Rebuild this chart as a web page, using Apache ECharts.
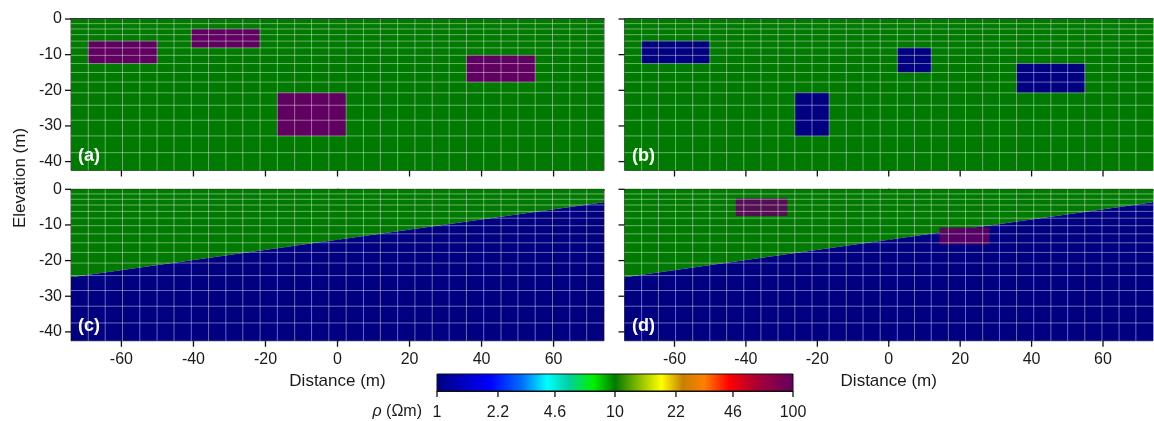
<!DOCTYPE html>
<html>
<head>
<meta http-equiv="Content-Type" content="text/html; charset=utf-8" />
<style type="text/css">
html, body {margin: 0; padding: 0; background: #fff;}
#main {width: 1154px; height: 421px;}
</style>
</head>
<body>
<div id="main"></div>
<script src="https://cdn.jsdelivr.net/npm/echarts@6/dist/echarts.min.js"></script>
<script type="text/javascript">

// model mesh (m)
var xEdges = [-74, -69.2, -64.5, -59.7, -54.9, -50.1, -45.4, -40.6, -35.8, -31.0, -26.3,
    -21.5, -16.7, -11.9, -7.2, -2.4, 2.4, 7.2, 11.9, 16.7, 21.5, 26.3, 31.0, 35.8, 40.6,
    45.4, 50.1, 54.9, 59.7, 64.5, 69.2, 74];
var zEdges = [0, -1.3, -2.8, -4.4, -6.2, -8.1, -10.2, -12.5, -15.0, -17.7, -20.7,
    -24.2, -28.4, -32.8, -37.5, -42.5];

// resistivities (ohm m)
var rhoHost = 10;
var rhoBase = 1;

// blocks: [xLeft, xRight, zTop, zBottom, rho]
var blocksA = [[-69.2, -50.1, -6.2, -12.5, 100], [-40.6, -21.5, -2.8, -8.1, 100],
    [-16.7, 2.4, -20.7, -32.8, 100], [35.8, 54.9, -10.2, -17.7, 100]];
var blocksB = [[-69.2, -50.1, -6.2, -12.5, 1], [-26.3, -16.7, -20.7, -32.8, 1],
    [2.4, 11.9, -8.1, -15.0, 1], [35.8, 54.9, -12.5, -20.7, 1]];
var blocksD = [[-42.8, -28.4, -2.5, -7.5, 100], [14.2, 28.2, -10.7, -15.5, 100]];

// dipping interface for (c) and (d): [x, z]
var interfaceLine = [[-74, -24.7], [74, -3.6]];

var xTicks = [-60, -40, -20, 0, 20, 40, 60];
var yTicks = [0, -10, -20, -30, -40];
var cbTicks = [1, 2.2, 4.6, 10, 22, 46, 100];
var cbLabels = ['1', '2.2', '4.6', '10', '22', '46', '100'];
var panelLabels = ['(a)', '(b)', '(c)', '(d)'];

var cmap = [[0.00, '#000080'], [0.15, '#0000ff'], [0.24, '#0070ff'], [0.31, '#00ffff'],
    [0.37, '#00d0a0'], [0.44, '#00f000'], [0.50, '#007a00'], [0.57, '#90c000'],
    [0.63, '#ffff00'], [0.69, '#c88000'], [0.75, '#ff8000'], [0.82, '#ff0000'],
    [0.89, '#b00030'], [1.00, '#600060']];

var X_MIN = xEdges[0], X_MAX = xEdges[xEdges.length - 1];
var Z_MIN = zEdges[zEdges.length - 1], Z_MAX = 0;
var FONT = 'Liberation Sans, Arial, sans-serif';
var TICK = 6;

function hexRgb(h) {
    return [parseInt(h.substr(1, 2), 16), parseInt(h.substr(3, 2), 16), parseInt(h.substr(5, 2), 16)];
}
function rhoColor(rho) {
    var t = Math.log10(rho) / 2;
    for (var i = 1; i < cmap.length; i++) {
        if (t <= cmap[i][0]) {
            var a = cmap[i - 1], b = cmap[i];
            var f = (t - a[0]) / (b[0] - a[0]);
            var ca = hexRgb(a[1]), cb = hexRgb(b[1]);
            return 'rgb(' + ca.map(function (c, k) { return Math.round(c + (cb[k] - c) * f); }).join(',') + ')';
        }
    }
    return cmap[cmap.length - 1][1];
}

var grids = [
    {left: 71, top: 19, width: 533, height: 151.5},
    {left: 624.5, top: 19, width: 528.5, height: 151.5},
    {left: 71, top: 189.3, width: 533, height: 151.5},
    {left: 624.5, top: 189.3, width: 528.5, height: 151.5},
    {left: 437, top: 374, width: 356, height: 17}
];
grids.forEach(function (g, i) {
    g.show = i < 4;
    g.borderColor = '#555';
    g.borderWidth = 1;
    g.backgroundColor = 'transparent';
});

var labelStyle = {color: '#1a1a1a', fontSize: 16, fontFamily: FONT};

function makeX(i) {
    return {
        type: 'value', gridIndex: i, min: X_MIN, max: X_MAX,
        splitLine: {show: false},
        axisLine: {lineStyle: {color: '#111', width: 1.5}},
        axisTick: {show: false},
        axisLabel: Object.assign({show: i >= 2, margin: 11, customValues: xTicks}, labelStyle),
        name: i >= 2 ? 'Distance (m)' : '',
        nameLocation: 'middle', nameGap: 32,
        nameTextStyle: {color: '#1a1a1a', fontSize: 17, fontFamily: FONT}
    };
}
function makeY(i) {
    return {
        type: 'value', gridIndex: i, min: Z_MIN, max: Z_MAX,
        splitLine: {show: false},
        axisLine: {lineStyle: {color: '#111', width: 1.5}},
        axisTick: {show: false},
        axisLabel: Object.assign({show: i % 2 === 0, margin: 9, customValues: yTicks}, labelStyle)
    };
}

var xAxes = [0, 1, 2, 3].map(makeX);
var yAxes = [0, 1, 2, 3].map(makeY);
xAxes.push({
    type: 'value', gridIndex: 4, min: 0, max: 2,
    splitLine: {show: false},
    axisLine: {lineStyle: {color: '#111', width: 1}},
    axisTick: {show: false},
    axisLabel: Object.assign({margin: 14, customValues: cbTicks.map(Math.log10),
        formatter: function (v) {
            var best = 0;
            cbTicks.forEach(function (t, k) {
                if (Math.abs(Math.log10(t) - v) < Math.abs(Math.log10(cbTicks[best]) - v)) best = k;
            });
            return cbLabels[best];
        }}, labelStyle)
});
yAxes.push({type: 'value', gridIndex: 4, min: 0, max: 1, show: false});

function blockSeries(idx, blocks, opacity) {
    return {
        type: 'custom', xAxisIndex: idx, yAxisIndex: idx, silent: true,
        data: blocks,
        renderItem: function (params, api) {
            var p0 = api.coord([api.value(0), api.value(2)]);
            var p1 = api.coord([api.value(1), api.value(3)]);
            return {
                type: 'rect',
                shape: {x: p0[0], y: p0[1], width: p1[0] - p0[0], height: p1[1] - p0[1]},
                style: {fill: rhoColor(api.value(4)), opacity: opacity}
            };
        }
    };
}

function layerSeries(idx) {
    // [side, rho]: 0 = above interface, 1 = below
    return {
        type: 'custom', xAxisIndex: idx, yAxisIndex: idx, silent: true,
        data: [[0, rhoHost], [1, rhoBase]],
        renderItem: function (params, api) {
            var a = interfaceLine[0], b = interfaceLine[1];
            var edgeZ = api.value(0) === 0 ? Z_MAX : Z_MIN;
            var pts = [[a[0], a[1]], [b[0], b[1]], [b[0], edgeZ], [a[0], edgeZ]].map(function (p) {
                return api.coord(p);
            });
            return {type: 'polygon', shape: {points: pts}, style: {fill: rhoColor(api.value(1))}};
        }
    };
}

function meshSeries(idx) {
    return {
        type: 'custom', xAxisIndex: idx, yAxisIndex: idx, silent: true,
        data: [[0]],
        renderItem: function (params, api) {
            var kids = [];
            var st = {stroke: 'rgba(255,255,255,0.42)', lineWidth: 1};
            xEdges.slice(1, -1).forEach(function (x) {
                var p0 = api.coord([x, Z_MAX]), p1 = api.coord([x, Z_MIN]);
                kids.push({type: 'line', shape: {x1: p0[0], y1: p0[1], x2: p1[0], y2: p1[1]}, style: st});
            });
            zEdges.slice(1, -1).forEach(function (z) {
                var p0 = api.coord([X_MIN, z]), p1 = api.coord([X_MAX, z]);
                kids.push({type: 'line', shape: {x1: p0[0], y1: p0[1], x2: p1[0], y2: p1[1]}, style: st});
            });
            return {type: 'group', children: kids};
        }
    };
}

// outward tick marks along bottom (x) and left (y) edges
function tickSeries(idx, xs, ys, xBase, yBase) {
    var data = xs.map(function (v) { return [0, v]; }).concat(ys.map(function (v) { return [1, v]; }));
    return {
        type: 'custom', xAxisIndex: idx, yAxisIndex: idx, silent: true, clip: false, z: 5,
        data: data,
        renderItem: function (params, api) {
            var p, shape;
            if (api.value(0) === 0) {
                p = api.coord([api.value(1), yBase]);
                shape = {x1: p[0], y1: p[1], x2: p[0], y2: p[1] + TICK};
            } else {
                p = api.coord([xBase, api.value(1)]);
                shape = {x1: p[0] - TICK, y1: p[1], x2: p[0], y2: p[1]};
            }
            return {type: 'line', shape: shape, style: {stroke: '#111', lineWidth: 1.3}};
        }
    };
}

var series = [
    blockSeries(0, [[X_MIN, X_MAX, Z_MAX, Z_MIN, rhoHost]], 1),
    blockSeries(0, blocksA, 1),
    meshSeries(0),
    blockSeries(1, [[X_MIN, X_MAX, Z_MAX, Z_MIN, rhoHost]], 1),
    blockSeries(1, blocksB, 1),
    meshSeries(1),
    layerSeries(2),
    meshSeries(2),
    layerSeries(3),
    blockSeries(3, blocksD, 0.88),
    meshSeries(3),
    {
        type: 'custom', xAxisIndex: 4, yAxisIndex: 4, silent: true,
        data: [[0]],
        renderItem: function (params, api) {
            var p0 = api.coord([0, 1]), p1 = api.coord([2, 0]);
            return {
                type: 'rect',
                shape: {x: p0[0], y: p0[1], width: p1[0] - p0[0], height: p1[1] - p0[1]},
                style: {
                    fill: new echarts.graphic.LinearGradient(0, 0, 1, 0, cmap.map(function (c) {
                        return {offset: c[0], color: c[1]};
                    })),
                    stroke: '#111', lineWidth: 1
                }
            };
        }
    }
];
[0, 1, 2, 3].forEach(function (i) {
    series.push(tickSeries(i, xTicks, yTicks, X_MIN, Z_MIN));
});
series.push(tickSeries(4, cbTicks.map(Math.log10), [], 0, 0));

var panelPos = [[78, 147], [632, 147], [78, 317], [632, 317]];
var graphics = panelLabels.map(function (t, i) {
    return {
        type: 'text', left: panelPos[i][0], top: panelPos[i][1], z: 100,
        style: {text: t, fill: '#fff', font: 'bold 18px ' + FONT}
    };
});
graphics.push({
    type: 'text', x: 20, y: 178, rotation: Math.PI / 2, z: 100,
    style: {text: 'Elevation (m)', fill: '#1a1a1a', font: '17px ' + FONT, align: 'center', verticalAlign: 'middle'}
});
graphics.push({
    type: 'text', x: 422, y: 412, z: 100,
    style: {
        text: '{r|ρ} (Ωm)', fill: '#1a1a1a', font: '16px ' + FONT, align: 'right', verticalAlign: 'middle',
        rich: {r: {fontStyle: 'italic', fontSize: 16, fontFamily: FONT, fill: '#1a1a1a'}}
    }
});

var myChart = echarts.init(document.getElementById('main'), null, {renderer: 'canvas'});
myChart.setOption({
    animation: false,
    grid: grids,
    xAxis: xAxes,
    yAxis: yAxes,
    series: series,
    graphic: graphics
});
</script>
</body>
</html>
